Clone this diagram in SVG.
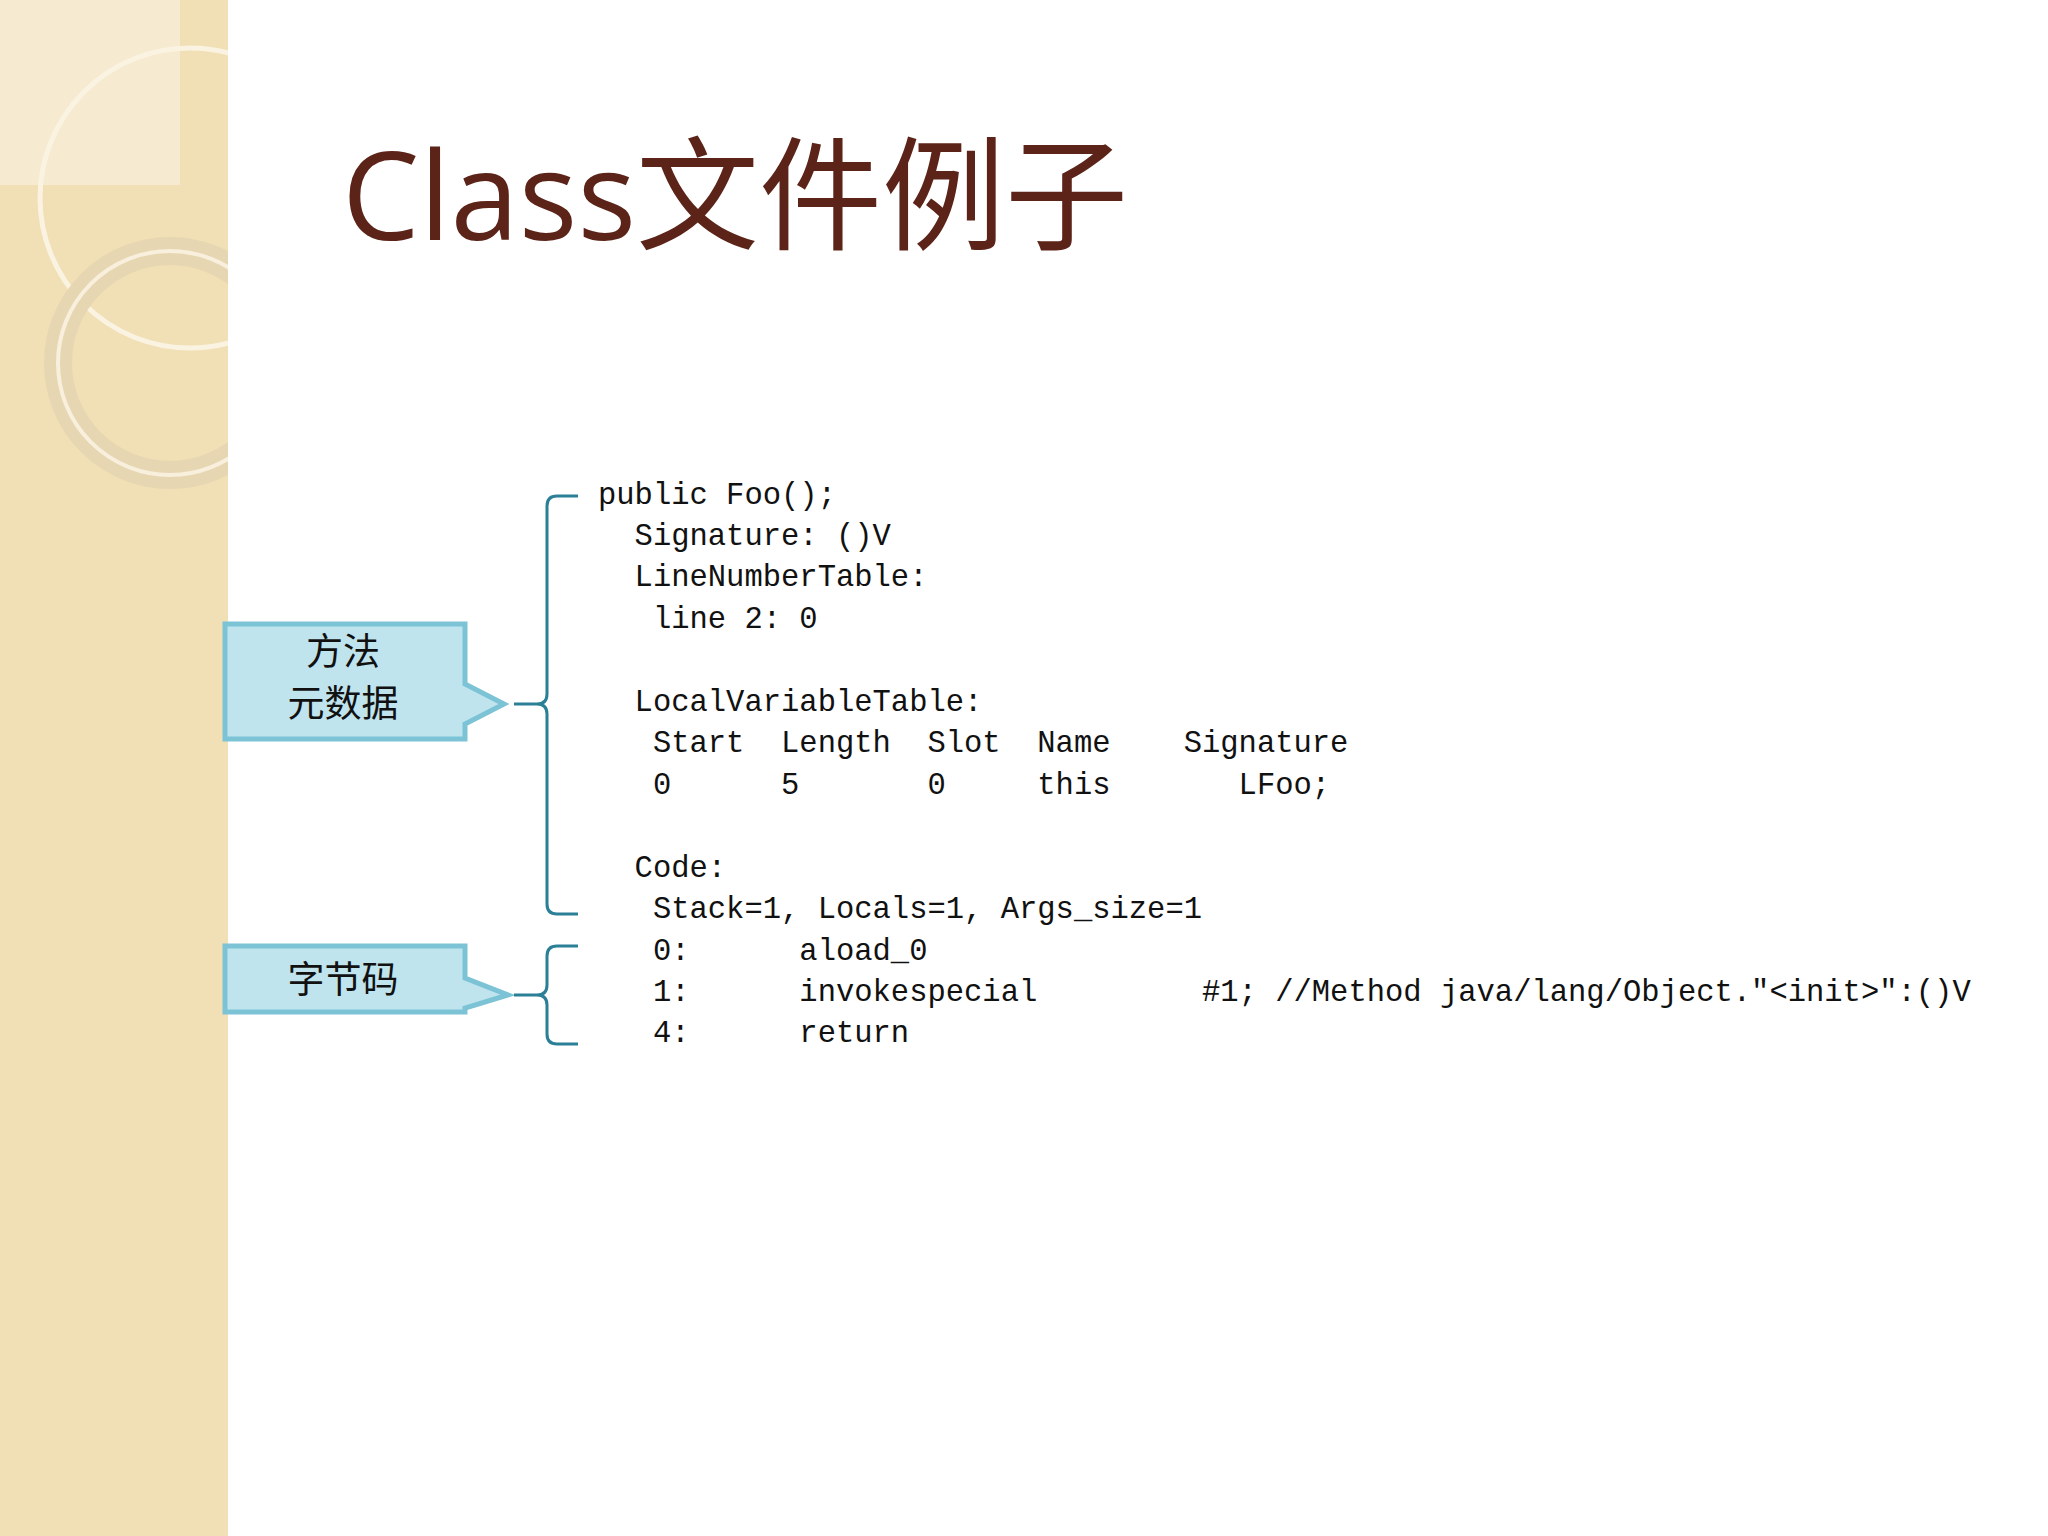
<svg xmlns="http://www.w3.org/2000/svg" width="2048" height="1536" viewBox="0 0 2048 1536">
<defs>
<style>
.code{font-family:"Liberation Mono","DejaVu Sans Mono",monospace;font-size:30.5px;fill:#111;white-space:pre}
.lbl{font-family:"Noto Sans CJK SC",sans-serif;font-size:37px;fill:#111;text-anchor:middle}
.box{fill:#bfe4ee;stroke:#7cc3d6;stroke-width:5}
.br{fill:none;stroke:#2b7f96;stroke-width:3}
</style>
<linearGradient id="bg" x1="0" y1="0" x2="0" y2="1"><stop offset="0" stop-color="#cfeef6"/><stop offset="1" stop-color="#a9dbe9"/></linearGradient>
<clipPath id="strip"><rect x="0" y="0" width="228" height="1536"/></clipPath>
</defs>
<rect width="2048" height="1536" fill="#fff"/>
<rect width="228" height="1536" fill="#f1dfb5"/>
<g clip-path="url(#strip)" fill="none">
<rect x="0" y="0" width="180" height="185" fill="#f6ead0"/>
<circle cx="190" cy="198" r="150" stroke="#fbf3e2" stroke-width="5"/>
<circle cx="170" cy="363" r="112" stroke="#e6d6b2" stroke-width="28"/>
<circle cx="170" cy="363" r="112" stroke="#f8efdc" stroke-width="4"/>
</g>
<text x="342" y="240" font-family="'Open Sans','Noto Sans CJK SC',sans-serif" font-size="123" fill="#5c2418">Class文件例子</text>
<g id="n1"><path class="box" d="M225,624 H465 V684 L504,704 L465,724 V739 H225 Z" fill="url(#bg)"/><text class="lbl" x="343" y="665">方法</text><text class="lbl" x="343" y="717">元数据</text></g>
<g id="n2"><path class="box" d="M225,946 H465 V978 L508,995 L465,1008 V1012 H225 Z" fill="url(#bg)"/><text class="lbl" x="343" y="993">字节码</text></g>
<g id="connectors">
<path class="br" d="M578,496 H557 Q547,496 547,506 V694 Q547,704 537,704 H514 H537 Q547,704 547,714 V904 Q547,914 557,914 H578"/>
<path class="br" d="M578,946 H557 Q547,946 547,956 V985 Q547,995 537,995 H514 H537 Q547,995 547,1005 V1034 Q547,1044 557,1044 H578"/>
</g>
<g id="code">
<text class="code" x="598" y="504">public Foo();</text>
<text class="code" x="598" y="545">  Signature: ()V</text>
<text class="code" x="598" y="586">  LineNumberTable:</text>
<text class="code" x="598" y="628">   line 2: 0</text>
<text class="code" x="598" y="711">  LocalVariableTable:</text>
<text class="code" x="598" y="752">   Start  Length  Slot  Name    Signature</text>
<text class="code" x="598" y="794">   0      5       0     this       LFoo;</text>
<text class="code" x="598" y="877">  Code:</text>
<text class="code" x="598" y="918">   Stack=1, Locals=1, Args_size=1</text>
<text class="code" x="598" y="960">   0:      aload_0</text>
<text class="code" x="598" y="1001">   1:      invokespecial         #1; //Method java/lang/Object."&lt;init&gt;":()V</text>
<text class="code" x="598" y="1042">   4:      return</text>
</g>
</svg>
